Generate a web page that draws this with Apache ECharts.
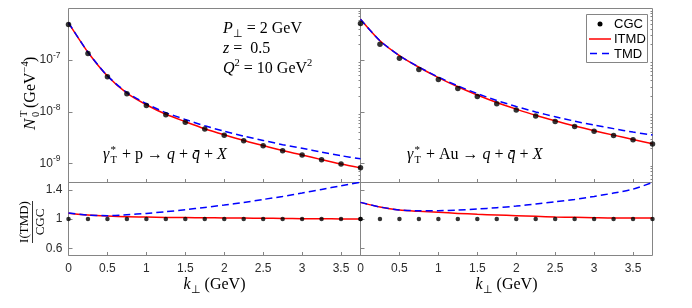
<!DOCTYPE html>
<html><head><meta charset="utf-8">
<script src="https://cdn.jsdelivr.net/npm/echarts@6/dist/echarts.min.js"></script>
<style>html,body{margin:0;padding:0;background:#fff}#c{width:692px;height:308px}</style>
</head><body><div id="c"></div>
<script>
// ---- data ----
const kValues = [0,0.25,0.5,0.75,1,1.25,1.5,1.75,2,2.25,2.5,2.75,3,3.25,3.5,3.75];
const cgcP  = [4.9e-7,1.35e-7,4.75e-8,2.23e-8,1.33e-8,8.75e-9,6.3e-9,4.62e-9,3.53e-9,2.75e-9,2.2e-9,1.76e-9,1.45e-9,1.18e-9,9.7e-10,8.2e-10];
const itmdP = [5.29e-7,1.424e-7,4.94e-8,2.297e-8,1.366e-8,8.94e-9,6.43e-9,4.70e-9,3.58e-9,2.78e-9,2.22e-9,1.774e-9,1.457e-9,1.184e-9,9.71e-10,8.2e-10];
const tmdP  = [5.30e-7,1.424e-7,4.96e-8,2.36e-8,1.432e-8,9.63e-9,7.10e-9,5.35e-9,4.20e-9,3.37e-9,2.79e-9,2.30e-9,1.96e-9,1.66e-9,1.41e-9,1.23e-9];
const cgcAu  = [5.13e-7,2.04e-7,1.09e-7,6.59e-8,4.22e-8,2.83e-8,1.98e-8,1.43e-8,1.077e-8,8.24e-9,6.50e-9,5.20e-9,4.22e-9,3.48e-9,2.87e-9,2.37e-9];
const itmdAu = [6.2e-7,2.37e-7,1.224e-7,7.28e-8,4.60e-8,3.05e-8,2.11e-8,1.509e-8,1.125e-8,8.54e-9,6.68e-9,5.32e-9,4.30e-9,3.53e-9,2.91e-9,2.40e-9];
const tmdAu  = [6.2e-7,2.37e-7,1.224e-7,7.34e-8,4.70e-8,3.18e-8,2.25e-8,1.652e-8,1.268e-8,9.93e-9,8.03e-9,6.59e-9,5.52e-9,4.72e-9,4.04e-9,3.56e-9];
const ratioCgc    = [1,1,1,1,1,1,1,1,1,1,1,1,1,1,1,1];
const ratioItmdP  = [1.08,1.055,1.04,1.03,1.027,1.022,1.02,1.017,1.014,1.012,1.01,1.008,1.005,1.003,1.001,1.0];
const ratioTmdP   = [1.082,1.055,1.045,1.059,1.077,1.10,1.127,1.159,1.191,1.227,1.268,1.309,1.355,1.405,1.455,1.505];
const ratioItmdAu = [1.228,1.164,1.123,1.105,1.091,1.077,1.064,1.055,1.045,1.036,1.027,1.023,1.018,1.014,1.014,1.014];
const ratioTmdAu  = [1.228,1.164,1.123,1.114,1.114,1.123,1.136,1.155,1.177,1.205,1.236,1.268,1.309,1.355,1.409,1.50];
const xTickValues = [0,0.5,1,1.5,2,2.5,3,3.5];
const logMajorTicks = [1e-9,1e-8,1e-7];
const logMinorTicks = [5e-10,6e-10,7e-10,8e-10,9e-10,2e-9,3e-9,4e-9,5e-9,6e-9,7e-9,8e-9,9e-9,2e-8,3e-8,4e-8,5e-8,6e-8,7e-8,8e-8,9e-8,2e-7,3e-7,4e-7,5e-7,6e-7,7e-7,8e-7,9e-7];
const ratioTicks = [0.6,1,1.4];

// ---- chart ----
const pair = arr => kValues.map((k,i)=>[k,arr[i]]);
const frame = '#858585', lab = '#2b2b2b';
const serif = 'Liberation Serif', sans = 'Liberation Sans';

const grids = [
  {left:68.5, top:8.5, width:292, height:174},
  {left:360.5, top:8.5, width:292, height:174},
  {left:68.5, top:182.5, width:292, height:73},
  {left:360.5, top:182.5, width:292, height:73}
].map(g=>Object.assign({show:true, borderColor:frame, borderWidth:1, backgroundColor:'transparent'}, g));

function xAx(i, labels){
  return {type:'value', gridIndex:i, min:0, max:3.75,
    axisLine:{show:false},
    axisTick:{show:true, inside:true, length:3.5, customValues:xTickValues, lineStyle:{color:frame}},
    axisLabel:{show:labels, customValues:xTickValues, margin:7, fontFamily:sans, fontSize:12, color:lab, formatter:v=>String(v)},
    splitLine:{show:false}};
}
function logAx(i, labels, minor){
  return {type:'log', logBase:10, gridIndex:i, min:4.27e-10, max:1e-6,
    axisLine:{show:false},
    axisTick:{show:true, inside:true, length: minor?2:4, customValues: minor?logMinorTicks:logMajorTicks, lineStyle:{color:frame}},
    axisLabel:{show:labels && !minor, customValues:logMajorTicks, margin:8,
      formatter:v=>'{a|10}{b|'+Math.round(Math.log10(v))+'}',
      rich:{a:{fontFamily:sans,fontSize:12,color:lab,lineHeight:18},
            b:{fontFamily:sans,fontSize:8.5,color:lab,verticalAlign:'top'}}},
    splitLine:{show:false}};
}
function ratioAx(i, labels){
  return {type:'value', gridIndex:i, min:0.5, max:1.5,
    axisLine:{show:false},
    axisTick:{show:true, inside:true, length:4, customValues:ratioTicks, lineStyle:{color:frame}},
    axisLabel:{show:labels, customValues:ratioTicks, margin:6, fontFamily:sans, fontSize:12, color:lab, formatter:v=>String(v)},
    splitLine:{show:false}};
}

function lineS(name, xi, yi, arr, dashed){
  return {name, type:'line', xAxisIndex:xi, yAxisIndex:yi, data:pair(arr), symbol:'none', smooth:0.25,
    lineStyle:{color: dashed?'#0000ff':'#ff0000', width:1.5, type: dashed?[7,4]:'solid'}, z: dashed?3:2};
}
function dotS(name, xi, yi, arr, size){
  return {name, type:'scatter', xAxisIndex:xi, yAxisIndex:yi, data:pair(arr), symbol:'circle', symbolSize:size,
    itemStyle:{color:'#000'}, z:5};
}

const richMath = {
  n:{fontFamily:serif, fontSize:16, color:'#000', lineHeight:22},
  i:{fontFamily:serif, fontSize:16, fontStyle:'italic', color:'#000', lineHeight:22},
  s:{fontFamily:serif, fontSize:10.5, color:'#000', verticalAlign:'bottom'},
  u:{fontFamily:serif, fontSize:10.5, color:'#000', verticalAlign:'top'}
};
function mtext(x,y,text){
  return {type:'text', x, y, silent:true, style:{text, rich:richMath, align:'left', verticalAlign:'middle', fill:'#000'}};
}
function reaction(x, y, target){
  return {type:'group', x, y, silent:true, children:[
    {type:'text', x:0, y:0, style:{text:'γ', font:'italic 16px "'+serif+'"', fill:'#000', verticalAlign:'middle', align:'left'}},
    {type:'text', x:7.5, y:-5, style:{text:'*', font:'11px "'+serif+'"', fill:'#000', verticalAlign:'middle', align:'left'}},
    {type:'text', x:7.5, y:5, style:{text:'T', font:'10.5px "'+serif+'"', fill:'#000', verticalAlign:'middle', align:'left'}},
    {type:'text', x:15, y:0, style:{text:'{n| + '+target+' → }{i|q}{n| + }{i|q\u0304}{n| + }{i|X}', rich:richMath, verticalAlign:'middle', align:'left'}}
  ]};
}
function xTitle(cx){
  return {type:'text', x:cx, y:285, silent:true, style:{text:'{i|k}{s|⊥}{n| (GeV)}', rich:richMath, align:'center', verticalAlign:'middle'}};
}
function t(x,y,text,size,italic,extra){
  return {type:'text', x, y, style:Object.assign({text, font:(italic?'italic ':'')+size+'px "'+serif+'"', fill:'#000', verticalAlign:'middle', align:'left'}, extra||{})};
}

const graphic = [
  mtext(223, 29, '{i|P}{s|⊥}{n| = 2 GeV}'),
  mtext(223, 49, '{i|z}{n| =  0.5}'),
  mtext(223, 69, '{i|Q}{u|2}{n| = 10 GeV}{u|2}'),
  reaction(103, 155, 'p'),
  reaction(407, 155, 'Au'),
  xTitle(214.5), xTitle(506.5),
  // y title upper
  {type:'group', x:31, y:91, rotation:Math.PI/2, silent:true, children:[
    t(-39, 0, 'N', 17, true),
    t(-26, -6.5, 'T', 10.5, false),
    t(-26, 5, '0', 10.5, false),
    t(-17, 0, '(GeV', 16, false),
    t(18.5, -5.5, '−4', 10.5, false),
    t(29, 0, ')', 16, false)
  ]},
  // y title lower (fraction)
  {type:'group', x:32.5, y:222, rotation:Math.PI/2, silent:true, children:[
    t(0, -1, 'I(TMD)', 13, false, {verticalAlign:'bottom', align:'center'}),
    {type:'line', shape:{x1:-21, y1:0, x2:21, y2:0}, style:{stroke:'#000', lineWidth:0.8}},
    t(0, 1.5, 'CGC', 13, false, {verticalAlign:'top', align:'center'})
  ]},
  // legend
  {type:'group', silent:true, z:100, children:[
    {type:'rect', shape:{x:586.5, y:14.5, width:61, height:48}, style:{fill:'#fff', stroke:frame, lineWidth:1}},
    {type:'circle', shape:{cx:600, cy:24, r:2.5}, style:{fill:'#000'}},
    {type:'text', x:614, y:24.5, style:{text:'CGC', font:'13px "'+sans+'"', fill:'#000', verticalAlign:'middle', align:'left'}},
    {type:'line', shape:{x1:589, y1:39, x2:611, y2:39}, style:{stroke:'#ff0000', lineWidth:1.5}},
    {type:'text', x:614, y:39.5, style:{text:'ITMD', font:'13px "'+sans+'"', fill:'#000', verticalAlign:'middle', align:'left'}},
    {type:'line', shape:{x1:590, y1:53.5, x2:611, y2:53.5}, style:{stroke:'#0000ff', lineWidth:1.5, lineDash:[7,5]}},
    {type:'text', x:614, y:54, style:{text:'TMD', font:'13px "'+sans+'"', fill:'#000', verticalAlign:'middle', align:'left'}}
  ]}
];

const option = {
  animation:false,
  backgroundColor:'#fff',
  grid: grids,
  xAxis:[xAx(0,false), xAx(1,false), xAx(2,true), xAx(3,true)],
  yAxis:[logAx(0,true,false), logAx(1,false,false), ratioAx(2,true), ratioAx(3,false), logAx(0,false,true), logAx(1,false,true)],
  series:[
    lineS('ITMD',0,0,itmdP,false), lineS('TMD',0,0,tmdP,true), dotS('CGC',0,0,cgcP,5.5),
    lineS('ITMD',1,1,itmdAu,false), lineS('TMD',1,1,tmdAu,true), dotS('CGC',1,1,cgcAu,5.5),
    lineS('ITMD',2,2,ratioItmdP,false), lineS('TMD',2,2,ratioTmdP,true), dotS('CGC',2,2,ratioCgc,4.5),
    lineS('ITMD',3,3,ratioItmdAu,false), lineS('TMD',3,3,ratioTmdAu,true), dotS('CGC',3,3,ratioCgc,4.5)
  ],
  graphic
};
const chart = echarts.init(document.getElementById('c'), null, {renderer:'canvas'});
chart.setOption(option);
</script></body></html>
